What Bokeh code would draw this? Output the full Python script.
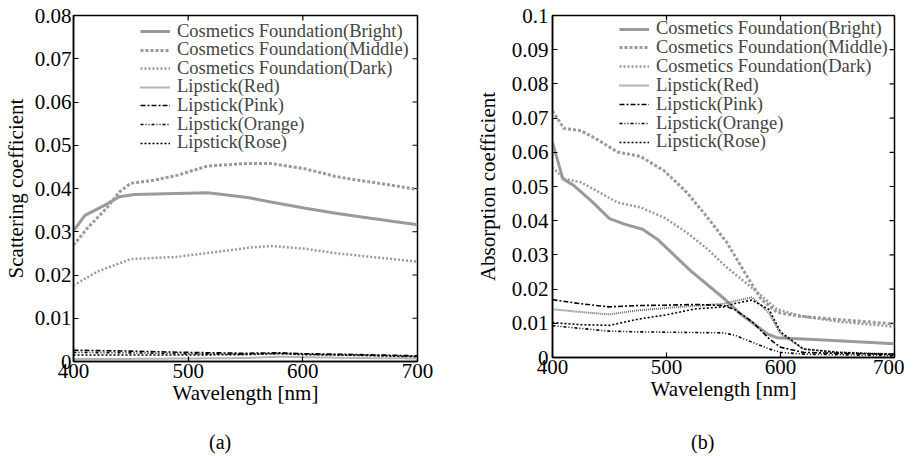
import math
from bokeh.plotting import figure
from bokeh.layouts import row, column
from bokeh.models import (Range1d, FixedTicker, CustomJSTickFormatter,
                          Legend, LegendItem, Div)
from bokeh.embed import file_html
from bokeh.resources import INLINE

# ---------------- data: (a) scattering coefficient ----------------
sc_bright_wl = [400, 410, 427, 440, 453, 480, 517, 552, 572, 601, 630, 659, 700]
sc_bright = [0.0302, 0.0338, 0.0361, 0.0381, 0.0386, 0.0388, 0.0390, 0.0379, 0.0369, 0.0355, 0.0342, 0.0331, 0.0316]
sc_middle_wl = [400, 412, 430, 440, 450, 470, 491, 517, 552, 572, 601, 630, 659, 700]
sc_middle = [0.0269, 0.0308, 0.0358, 0.0392, 0.0412, 0.0419, 0.0431, 0.0452, 0.0458, 0.0458, 0.0446, 0.0427, 0.0415, 0.0398]
sc_dark_wl = [400, 421, 450, 491, 552, 572, 601, 630, 659, 700]
sc_dark = [0.0176, 0.0208, 0.0237, 0.0242, 0.0263, 0.0267, 0.0261, 0.0250, 0.0242, 0.0231]
sc_lip_wl = [400, 450, 500, 550, 580, 600, 650, 700]
sc_red = [0.0006, 0.0006, 0.0007, 0.0008, 0.0011, 0.0010, 0.0008, 0.0007]
sc_pink = [0.0026, 0.0024, 0.0021, 0.0019, 0.0020, 0.0018, 0.0016, 0.0013]
sc_orange = [0.0021, 0.0020, 0.0018, 0.0017, 0.0019, 0.0017, 0.0015, 0.0012]
sc_rose = [0.0015, 0.0015, 0.0015, 0.0016, 0.0018, 0.0016, 0.0014, 0.0011]

# ---------------- data: (b) absorption coefficient ----------------
ab_bright_wl = [400, 409, 419, 434, 450, 463, 479, 492, 521, 551, 565, 589, 597, 638, 700]
ab_bright = [0.0629, 0.0523, 0.0502, 0.0458, 0.0406, 0.0390, 0.0375, 0.0346, 0.0254, 0.0171, 0.0127, 0.0068, 0.0058, 0.0051, 0.0040]
ab_middle_wl = [400, 410, 425, 439, 457, 477, 498, 518, 536, 553, 574, 583, 597, 618, 647, 700]
ab_middle = [0.0721, 0.0670, 0.0663, 0.0638, 0.0601, 0.0588, 0.0546, 0.0482, 0.0409, 0.0336, 0.0219, 0.0171, 0.0132, 0.0120, 0.0112, 0.0098]
ab_dark_wl = [400, 410, 425, 439, 457, 477, 498, 518, 536, 553, 580, 597, 620, 650, 700]
ab_dark = [0.0556, 0.0523, 0.0512, 0.0487, 0.0453, 0.0439, 0.0409, 0.0365, 0.0317, 0.0263, 0.0190, 0.0141, 0.0120, 0.0105, 0.0090]
ab_lip_wl = [400, 425, 450, 475, 500, 525, 550, 560, 575, 590, 600, 620, 650, 700]
ab_red = [0.0141, 0.0133, 0.0126, 0.0138, 0.0145, 0.0151, 0.0157, 0.0165, 0.0176, 0.0130, 0.0070, 0.0025, 0.0015, 0.0010]
ab_pink = [0.0169, 0.0157, 0.0148, 0.0152, 0.0153, 0.0155, 0.0152, 0.0140, 0.0105, 0.0055, 0.0030, 0.0015, 0.0012, 0.0010]
ab_orange = [0.0093, 0.0085, 0.0077, 0.0075, 0.0074, 0.0073, 0.0072, 0.0065, 0.0045, 0.0025, 0.0015, 0.0010, 0.0008, 0.0005]
ab_rose = [0.0102, 0.0096, 0.0094, 0.0112, 0.0125, 0.0142, 0.0148, 0.0158, 0.0168, 0.0140, 0.0075, 0.0025, 0.0015, 0.0008]

names = ["Cosmetics Foundation(Bright)", "Cosmetics Foundation(Middle)",
         "Cosmetics Foundation(Dark)", "Lipstick(Red)", "Lipstick(Pink)",
         "Lipstick(Orange)", "Lipstick(Rose)"]
x_ticks = [400, 500, 600, 700]
sc_ticks = [0, 0.01, 0.02, 0.03, 0.04, 0.05, 0.06, 0.07, 0.08]
ab_ticks = [0, 0.01, 0.02, 0.03, 0.04, 0.05, 0.06, 0.07, 0.08, 0.09, 0.1]

FONT = "Liberation Serif"
GRAY = "#9a9a9a"
styles = [
    dict(line_color=GRAY, line_width=3, line_dash="solid"),
    dict(line_color=GRAY, line_width=3, line_dash="3 2"),
    dict(line_color=GRAY, line_width=2.5, line_dash="2 2"),
    dict(line_color="#6a6a6a", line_width=2, line_dash="1 1"),
    dict(line_color="black", line_width=1.6, line_dash="5 2 2 2"),
    dict(line_color="black", line_width=1.6, line_dash="3 2 1 2 1 2"),
    dict(line_color="black", line_width=1.6, line_dash="2 2"),
]


def make_panel(series, yticks, ylabel, fw, fh, bl, br, bt, bb, lab_so, axl_so,
               leg_x, leg_bottom, leg_pitch):
    ymax = yticks[-1]
    p = figure(frame_width=fw, frame_height=fh, x_range=Range1d(400, 700),
               y_range=Range1d(0, ymax), output_backend="svg",
               toolbar_location=None, min_border_left=bl, min_border_right=br,
               min_border_top=bt, min_border_bottom=bb)
    p.xgrid.visible = False
    p.ygrid.visible = False
    p.outline_line_color = "black"
    p.outline_line_width = 1.5
    p.background_fill_color = "white"
    p.xaxis.ticker = FixedTicker(ticks=x_ticks)
    p.yaxis.ticker = FixedTicker(ticks=yticks)
    p.yaxis.formatter = CustomJSTickFormatter(
        code="return parseFloat(tick.toFixed(3)).toString();")
    for ax in [p.xaxis[0], p.yaxis[0]]:
        ax.major_tick_in = 5
        ax.major_tick_out = 0
        ax.minor_tick_line_color = None
        ax.axis_line_color = "black"
        ax.axis_line_width = 1.5
        ax.major_tick_line_color = "black"
        ax.major_tick_line_width = 1.2
        ax.major_label_text_font = FONT
        ax.major_label_text_font_size = "21px"
        ax.major_label_text_color = "black"
        ax.axis_label_text_font = FONT
        ax.axis_label_text_font_size = "21px"
        ax.axis_label_text_font_style = "normal"
        ax.axis_label_text_color = "black"
    p.xaxis.major_label_standoff = 2
    p.xaxis.axis_label_standoff = 0
    p.yaxis.major_label_standoff = lab_so
    p.yaxis.axis_label_standoff = axl_so
    p.xaxis.axis_label = "Wavelength [nm]"
    p.yaxis.axis_label = ylabel
    # mirrored inward tick marks on the top and right frame edges
    p.dash(x=x_ticks, y=[ymax] * len(x_ticks), size=10, angle=math.pi / 2,
           line_color="black", line_width=1.2)
    p.dash(x=[700] * len(yticks), y=yticks, size=10,
           line_color="black", line_width=1.2)
    for i, (name, (xs, ys), st) in enumerate(zip(names, series, styles)):
        r = p.line(xs, ys, **st)
        bottom = leg_bottom + leg_pitch * i
        leg = Legend(items=[LegendItem(label=name, renderers=[r])],
                     location=(leg_x, fh - bottom), label_text_font=FONT,
                     label_text_font_size="18.5px", label_height=20, glyph_height=20,
                     glyph_width=30, label_standoff=7, spacing=0, padding=0, margin=0,
                     background_fill_alpha=0, border_line_alpha=0)
        p.add_layout(leg)
    return p


pa = make_panel([(sc_bright_wl, sc_bright), (sc_middle_wl, sc_middle), (sc_dark_wl, sc_dark),
                 (sc_lip_wl, sc_red), (sc_lip_wl, sc_pink), (sc_lip_wl, sc_orange),
                 (sc_lip_wl, sc_rose)],
                sc_ticks, "Scattering coefficient", 344, 346, 68, 35, 9, 52, 2, 4,
                67, 26.5, 18.6)
pb = make_panel([(ab_bright_wl, ab_bright), (ab_middle_wl, ab_middle), (ab_dark_wl, ab_dark),
                 (ab_lip_wl, ab_red), (ab_lip_wl, ab_pink), (ab_lip_wl, ab_orange),
                 (ab_lip_wl, ab_rose)],
                ab_ticks, "Absorption coefficient", 342, 342, 100, 10, 15, 50, 4, 9,
                67, 24, 18.9)

cap_style = {"font-family": "Liberation Serif", "font-size": "20px", "color": "black",
             "padding-top": "16px"}
cap_a = Div(text="(a)", width=447, height=15, styles=dict(cap_style, **{"padding-left": "204px"}))
cap_b = Div(text="(b)", width=452, height=15, styles=dict(cap_style, **{"padding-left": "229px"}))

layout = column(row(pa, pb), row(cap_a, cap_b))
open("out.html", "w").write(file_html(layout, INLINE))
